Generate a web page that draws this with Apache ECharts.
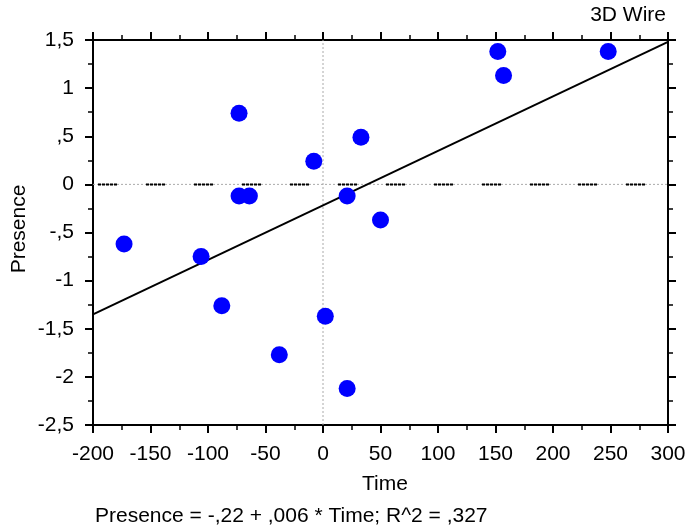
<!DOCTYPE html>
<html>
<head>
<meta charset="utf-8">
<script src="https://cdn.jsdelivr.net/npm/echarts@6/dist/echarts.min.js"></script>
<style>
html,body{margin:0;padding:0;background:#fff;}
#chart{width:689px;height:530px;}
</style>
</head>
<body>
<div id="chart"></div>
<script>
// Data
var timeValues = [-173, -106, -88, -73, -73, -64, -38, -8, 2, 21, 21, 33, 50, 152, 157, 248];
var presenceValues = [-0.62, -0.75, -1.26, 0.74, -0.12, -0.12, -1.77, 0.24, -1.37, -0.12, -2.12, 0.49, -0.37, 1.38, 1.13, 1.38];
var fitLine = [[-200, -1.35], [300, 1.48]];
var xTickLabels = ['-200', '-150', '-100', '-50', '0', '50', '100', '150', '200', '250', '300'];
var yTickLabels = ['-2,5', '-2', '-1,5', '-1', '-,5', '0', ',5', '1', '1,5'];
var xTickValues = [-200, -150, -100, -50, 0, 50, 100, 150, 200, 250, 300];
var yTickValues = [-2.5, -2, -1.5, -1, -0.5, 0, 0.5, 1, 1.5];
var titleText = '3D Wire';
var xName = 'Time';
var yName = 'Presence';
var formulaText = 'Presence = -,22 + ,006 * Time; R^2 = ,327';

var FONT = "'Liberation Sans', Arial, sans-serif";
var points = timeValues.map(function (t, i) { return [t, presenceValues[i]]; });

function lookup(vals, labels) {
  return function (v) {
    for (var i = 0; i < vals.length; i++) {
      if (Math.abs(vals[i] - v) < 1e-9) return labels[i];
    }
    return '';
  };
}

var axisLine = { show: true, onZero: false, lineStyle: { color: '#000', width: 2 } };
var axisTick = { show: true, inside: false, length: 8, lineStyle: { color: '#000', width: 2 } };
var minorTick = { show: true, splitNumber: 2, length: 5, lineStyle: { color: '#000', width: 1.5 } };

var chart = echarts.init(document.getElementById('chart'), null, { renderer: 'canvas' });
chart.setOption({
  animation: false,
  backgroundColor: '#fff',
  grid: { left: 93, top: 40, width: 575, height: 385, containLabel: false },
  xAxis: [
    {
      type: 'value', min: -200, max: 300, interval: 50, position: 'bottom',
      axisLine: axisLine, axisTick: axisTick, minorTick: minorTick,
      splitLine: { show: false },
      axisLabel: { show: true, margin: 19, fontSize: 21, color: '#000', fontFamily: FONT,
        formatter: lookup(xTickValues, xTickLabels) }
    },
    {
      type: 'value', min: -200, max: 300, interval: 50, position: 'top',
      axisLine: axisLine, axisTick: axisTick, minorTick: minorTick,
      splitLine: { show: false }, axisLabel: { show: false }
    }
  ],
  yAxis: [
    {
      type: 'value', min: -2.5, max: 1.5, interval: 0.5, position: 'left',
      axisLine: axisLine, axisTick: axisTick, minorTick: minorTick,
      splitLine: { show: false },
      axisLabel: { show: true, margin: 19, fontSize: 21, color: '#000', fontFamily: FONT,
        formatter: lookup(yTickValues, yTickLabels) }
    },
    {
      type: 'value', min: -2.5, max: 1.5, interval: 0.5, position: 'right',
      axisLine: axisLine, axisTick: axisTick, minorTick: minorTick,
      splitLine: { show: false }, axisLabel: { show: false }
    }
  ],
  series: [
    {
      type: 'line', data: [[0, -2.5], [0, 1.5]], symbol: 'none', silent: true,
      lineStyle: { color: '#aaa', width: 1, type: [2, 2] }, z: 1
    },
    {
      type: 'line', data: [[-200, 0], [300, 0]], symbol: 'none', silent: true,
      lineStyle: { color: '#aaa', width: 1, type: [2, 2] }, z: 1
    },
    {
      type: 'line', data: [[-200, 0], [300, 0]], symbol: 'none', silent: true,
      lineStyle: { color: '#000', width: 2, type: [3, 1, 3, 1, 3, 1, 3, 1, 3, 29], dashOffset: -5 }, z: 2
    },
    {
      type: 'line', data: fitLine, symbol: 'none', silent: true,
      lineStyle: { color: '#000', width: 2 }, z: 3
    },
    {
      type: 'scatter', data: points, symbol: 'circle', symbolSize: 17,
      itemStyle: { color: '#0000ff', opacity: 1 }, z: 4
    }
  ],
  graphic: [
    { type: 'text', right: 23, top: 5, style: { text: titleText, font: '21px ' + FONT, fill: '#000' } },
    { type: 'text', x: 385, y: 484, style: { text: xName, font: '21px ' + FONT, fill: '#000', textAlign: 'center', textVerticalAlign: 'middle' } },
    { type: 'text', x: 19, y: 229, rotation: Math.PI / 2, style: { text: yName, font: '21px ' + FONT, fill: '#000', textAlign: 'center', textVerticalAlign: 'middle' } },
    { type: 'text', x: 95, y: 516, style: { text: formulaText, font: '21px ' + FONT, fill: '#000', textAlign: 'left', textVerticalAlign: 'middle' } }
  ]
});
</script>
</body>
</html>
